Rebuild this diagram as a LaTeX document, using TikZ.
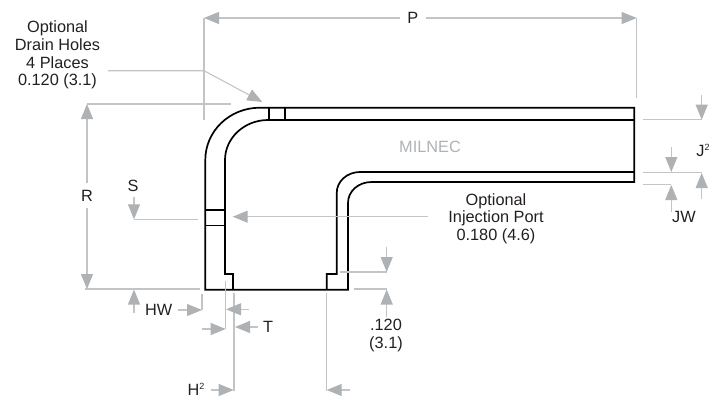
\documentclass[tikz,border=0pt]{standalone}
\usepackage{fontspec}
\setmainfont{Liberation Sans}
\usetikzlibrary{arrows.meta}
\definecolor{dimline}{HTML}{C2C4C6}
\definecolor{dimhead}{HTML}{AEB2B5}
\definecolor{ink}{HTML}{231F20}
\newcommand{\supnum}[1]{\raisebox{5.5pt}{\fontsize{9}{9}\selectfont #1}}
\tikzset{
  x=1pt,y=-1pt,
  part/.style={draw=black,line width=1.7pt,line join=miter},
  dim/.style={draw=dimline,line width=1.1pt},
  dimarrow/.style={dim,-{Triangle[length=15pt,width=12pt,color=dimhead]}},
  lab/.style={inner sep=0pt,text=ink,font=\fontsize{16.3}{17.7}\selectfont,align=center},
}
\begin{document}
\begin{tikzpicture}
\useasboundingbox (0,0) rectangle (717,397);
% part outline
\draw[part] (205.3,289.7) -- (205.3,160) .. controls (205.3,131.3) and (229.3,107.7) .. (260,107.7)
  -- (634.3,107.7) -- (634.3,182) -- (371.7,182) .. controls (358,182) and (348,191.4) .. (348,203)
  -- (348,289.7) -- cycle;
\draw[part] (233,289.7) -- (233,274) -- (225,274) -- (225,160) .. controls (225,138) and (244.3,120) .. (268,120) -- (634.3,120);
\draw[part] (326.7,289.7) -- (326.7,274) -- (336.7,274) -- (336.7,193) .. controls (336.7,181.4) and (347,172) .. (360,172) -- (634.3,172);
\draw[part,line width=1.5pt] (269.2,107.7) -- (269.2,120) (285,107.7) -- (285,120);
\draw[part,line width=1.5pt] (205.3,210) -- (225,210) (205.3,225.7) -- (225,225.7);
% labels
\node[lab] (drain) at (57.5,55) {Optional\\Drain Holes\\4 Places\\0.120 (3.1)};
\node[lab] (port) at (496,218.5) {Optional\\Injection Port\\0.180 (4.6)};
\node[lab,text=dimhead] (mil) at (430,147.3) {MILNEC};
\node[lab] (P) at (412.7,17.5) {P};
\node[lab] (R) at (87,195.5) {R};
\node[lab] (S) at (133,186) {S};
\node[lab] (HW) at (158.7,310) {HW};
\node[lab] (T) at (268,327) {T};
\node[lab,anchor=base] (H) at (196,395) {H\supnum{2}};
\node[lab,anchor=base] (J) at (703,156) {J\supnum{2}};
\node[lab] (JW) at (684,216.7) {JW};
\node[lab] (thick) at (386,335.5) {.120\\(3.1)};
% P
\draw[dim] (204,18) -- (204,120) (636.7,18) -- (636.7,98.3);
\draw[dimarrow] (400,18) -- (204,18);
\draw[dimarrow] (426,18) -- (636.7,18);
% drain leader
\draw[dimarrow] (108,70.7) -- (204,70.7) -- (262.3,102);
% R
\draw[dim] (87,104) -- (231,104) (85,289) -- (200,289);
\draw[dimarrow] (87,183) -- (87,104);
\draw[dimarrow] (87,208) -- (87,289);
% S
\draw[dim] (134,219.3) -- (197.7,219.3);
\draw[dimarrow] (134,197) -- (134,219.3);
% port
\draw[dimarrow] (428,216.7) -- (232.7,216.7);
% HW
\draw[dimarrow] (134,312.7) -- (134,289.5);
\draw[dim] (202,294) -- (202,309.5);
\draw[dimarrow] (178,310) -- (202,310);
% H, T
\draw[dim] (225.7,280.7) -- (225.7,329.3) (234,293) -- (234,390.7);
\draw[dimarrow] (248.7,309.3) -- (226,309.3);
\draw[dimarrow] (202,329) -- (225.7,329);
\draw[dimarrow] (257.7,327) -- (235,327);
\draw[dimarrow] (210.7,390) -- (233.7,390);
% bottom right
\draw[dim] (340,272) -- (386.7,272) (354,289) -- (386.7,289) (326.7,293) -- (326.7,390.7);
\draw[dimarrow] (386.7,246.7) -- (386.7,272);
\draw[dimarrow] (386.7,316.7) -- (386.7,289.5);
\draw[dimarrow] (350,390) -- (326.7,390);
% J
\draw[dim] (643,119.7) -- (701.7,119.7) (643,172.3) -- (701.7,172.3) (643,184.3) -- (671.3,184.3);
\draw[dimarrow] (701.7,95) -- (701.7,119.7);
\draw[dimarrow] (701.7,199) -- (701.7,173);
\draw[dimarrow] (671.3,146.7) -- (671.3,172);
\draw[dimarrow] (671.3,211.7) -- (671.3,185);
\end{tikzpicture}
\end{document}
